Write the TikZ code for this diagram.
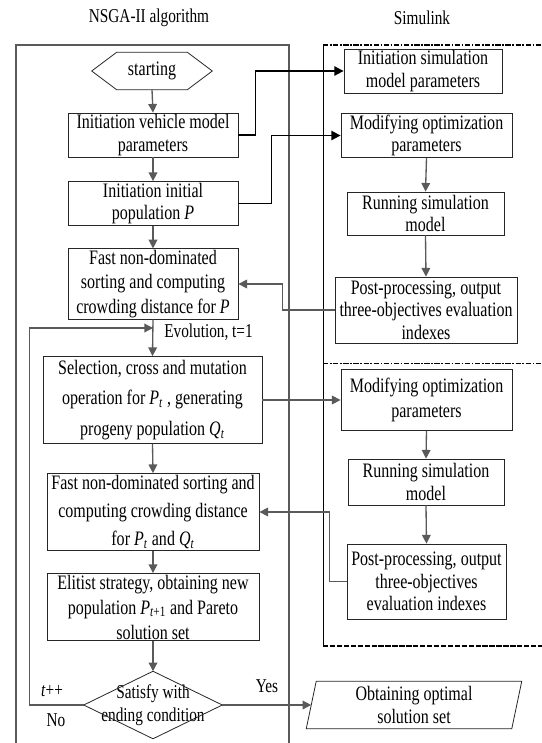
\documentclass[tikz,border=0pt]{standalone}
\usepackage{fontspec}
\setmainfont{Liberation Serif}[FakeStretch=0.78]
\usetikzlibrary{arrows.meta,calc}
\definecolor{garr}{HTML}{5A5A5A}
\begin{document}
\begin{tikzpicture}[x=0.75pt,y=-0.75pt,
  box/.style={draw=black!85, line width=0.6pt, align=center, inner sep=1pt, font=\fontsize{15.4}{17}\selectfont},
  plain/.style={align=center, inner sep=0pt, font=\fontsize{15.4}{17}\selectfont},
  shapeline/.style={draw=black!85, line width=0.6pt},
  title/.style={font=\fontsize{14.7}{16}\selectfont, inner sep=0pt},
  lab/.style={font=\fontsize{14.7}{16}\selectfont, inner sep=0pt},
  garrow/.style={draw=garr, line width=1pt, -{Triangle[length=6.5pt,width=6.5pt]}},
  barrow/.style={draw=black, line width=1.3pt, -{Triangle[length=7pt,width=7pt]}}
]
\useasboundingbox (0,0) rectangle (542,743);

% frames
\draw[draw=garr, line width=0.8pt] (16,743) -- (16,45) -- (289,45) -- (289,743);
\draw[black, line width=0.6pt] (323,45) -- (323,646);
\draw[black, line width=1.2pt, dash pattern=on 4pt off 1.2pt on 1.2pt off 1.2pt] (323,45) -- (542,45);
\draw[black, line width=0.5pt, dash pattern=on 4pt off 1.2pt on 1.2pt off 1.2pt] (323,363) -- (542,363);
\draw[black, line width=1.2pt, dash pattern=on 4pt off 1.2pt] (323,646) -- (542,646);

% titles
\node[title] (t1) at (149,18) {NSGA-II algorithm};
\node[title] (t2) at (422,18) {Simulink};

% left column
\node[plain, minimum width=90pt, minimum height=27.75pt] (start) at (152,71) {starting};
\draw[shapeline] (start.west) -- ($(start.north west)+(25,0)$) -- ($(start.north east)+(-25,0)$) -- (start.east) -- ($(start.south east)+(-25,0)$) -- ($(start.south west)+(25,0)$) -- cycle;

\node[box, minimum width=127.5pt, minimum height=30pt] (veh) at (153,135) {Initiation vehicle model\\parameters};
\node[box, minimum width=127.5pt, minimum height=32.25pt] (pop) at (153,203.5) {Initiation initial\\population \textit{P}};
\node[box, minimum width=127.5pt, minimum height=51pt, font=\fontsize{15.4}{18.4}\selectfont] (fast1) at (153,284) {Fast non-dominated\\sorting and computing\\crowding distance for \textit{P}};
\node[box, minimum width=164.25pt, minimum height=65.25pt, font=\fontsize{15.4}{23}\selectfont] (sel) at (152.5,400) {Selection, cross and mutation\\operation for \textit{P}\textsubscript{\textit{t}} , generating\\progeny population \textit{Q}\textsubscript{\textit{t}}};
\node[box, minimum width=159pt, minimum height=57.75pt, font=\fontsize{15.4}{21}\selectfont] (fast2) at (153,512) {Fast non-dominated sorting and\\computing crowding distance\\for \textit{P}\textsubscript{\textit{t}} and \textit{Q}\textsubscript{\textit{t}}};
\node[box, minimum width=159pt, minimum height=49.5pt, font=\fontsize{15.4}{18.75}\selectfont] (elit) at (153,607) {Elitist strategy, obtaining new\\population \textit{P}\textsubscript{\textit{t}+1} and Pareto\\solution set};
\node[plain, minimum width=103.5pt, minimum height=50.25pt, font=\fontsize{14.7}{17}\selectfont] (cond) at (153,705) {Satisfy with\\ending condition};
\draw[shapeline] (cond.west) -- (cond.north) -- (cond.east) -- (cond.south) -- cycle;

\node[plain, minimum width=153.75pt, minimum height=35.25pt] (opt) at (414,705) {Obtaining optimal\\solution set};
\draw[shapeline] ($(opt.north west)+(5,0)$) -- ($(opt.north east)+(5,0)$) -- ($(opt.south east)+(-5,0)$) -- ($(opt.south west)+(-5,0)$) -- cycle;

% right column
\node[box, minimum width=118.5pt, minimum height=31.5pt] (sim1) at (423,71) {Initiation simulation\\model parameters};
\node[box, minimum width=128.25pt, minimum height=32.25pt] (mod1) at (426.5,135.5) {Modifying optimization\\parameters};
\node[box, minimum width=117.75pt, minimum height=32.25pt] (run1) at (425.5,213.5) {Running simulation\\model};
\node[box, minimum width=136.5pt, minimum height=49.5pt] (post1) at (426,310) {Post-processing, output\\three-objectives evaluation\\indexes};
\node[box, minimum width=128.25pt, minimum height=45.75pt, font=\fontsize{15.4}{19}\selectfont] (mod2) at (426.5,400) {Modifying optimization\\parameters};
\node[box, minimum width=117pt, minimum height=34.5pt] (run2) at (426,482) {Running simulation\\model};
\node[box, minimum width=119.25pt, minimum height=56.25pt] (post2) at (426.5,581.5) {Post-processing, output\\three-objectives\\evaluation indexes};

% connectors left column
\draw[garrow] (start.south) -- (veh.north);
\draw[garrow] (veh.south) -- (pop.north);
\draw[garrow] (pop.south) -- (fast1.north);
\draw[garrow] (fast1.south) -- (sel.north);
\draw[garrow] (sel.south) -- (fast2.north);
\draw[garrow] (fast2.south) -- (elit.north);
\draw[garrow] (elit.south) -- (cond.north);

\coordinate (loopin) at (153,328);
\draw[garrow] (cond.west) -- ++(-54,0) |- (loopin);
\node[lab, anchor=west] (evo) at (164,332) {Evolution, t=1};
\node[lab] (tpp) at (52,691) {\textit{t}++};
\node[lab] (no) at (56,720) {No};
\node[lab] (yes) at (267,686) {Yes};
\draw[garrow] (cond.east) -- (opt.west);

% connectors right column
\draw[garrow] (mod1.south) -- (run1.north);
\draw[garrow] (run1.south) -- (post1.north);
\draw[garrow] (mod2.south) -- (run2.north);
\draw[garrow] (run2.south) -- (post2.north);

% cross connectors
\draw[barrow] (veh.east) -- ++(17,0) |- (sim1.west);
\draw[barrow] (pop.east) -- ++(33,0) |- (mod1.west);
\draw[garrow] (post1.west) -- ++(-52,0) |- (fast1.east);
\draw[garrow] (sel.east) -- (mod2.west);
\draw[garrow] (post2.west) -- ++(-17,0) |- (fast2.east);
\end{tikzpicture}
\end{document}
